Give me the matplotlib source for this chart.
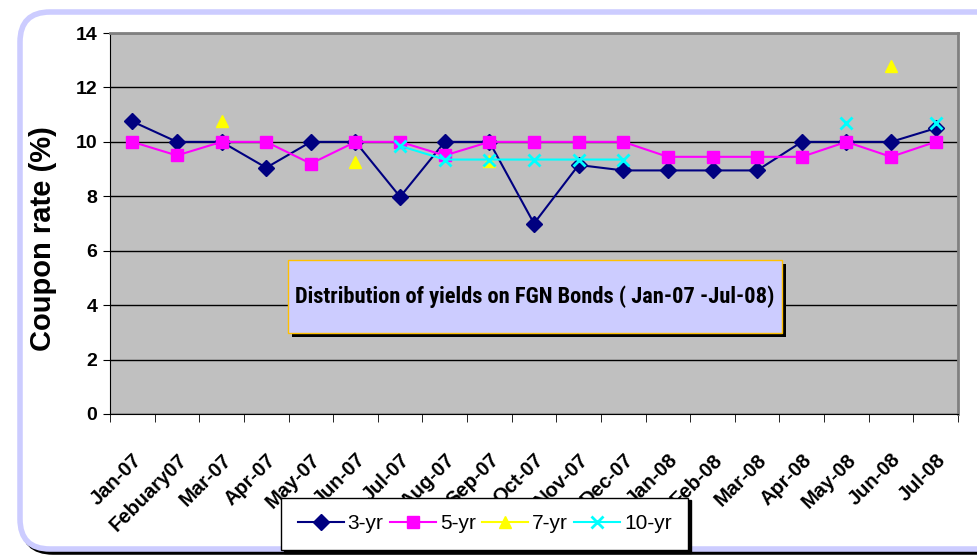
import numpy as np
import matplotlib
matplotlib.use("Agg")
from matplotlib import pyplot as plt
from matplotlib import font_manager as fm
from matplotlib.patches import FancyBboxPatch, Rectangle
from matplotlib.transforms import ScaledTranslation

months = ["Jan-07", "Febuary07", "Mar-07", "Apr-07", "May-07", "Jun-07", "Jul-07",
          "Aug-07", "Sep-07", "Oct-07", "Nov-07", "Dec-07", "Jan-08", "Feb-08",
          "Mar-08", "Apr-08", "May-08", "Jun-08", "Jul-08"]
nan = np.nan
yr3 = [10.75, 10, 10, 9.05, 10, 10, 7.98, 10, 10, 7.0, 9.15, 8.95, 8.95, 8.95, 8.95, 10, 10, 10, 10.5]
yr5 = [10, 9.5, 10, 10, 9.2, 10, 10, 9.5, 10, 10, 10, 10, 9.45, 9.45, 9.45, 9.45, 10, 9.45, 10]
yr7 = [nan, nan, 10.75, nan, nan, 9.25, nan, nan, 9.3, nan, nan, nan, nan, nan, nan, nan, nan, 12.8, nan]
yr10 = [nan, nan, nan, nan, nan, nan, 9.85, 9.35, 9.35, 9.35, 9.35, 9.35, nan, nan, nan, nan, 10.7, nan, 10.7]

TITLE = "Distribution of yields on FGN Bonds ( Jan-07 -Jul-08)"

W, H = 978, 558
fig = plt.figure(figsize=(W / 100, H / 100), dpi=100)


def is_bold(w):
    if isinstance(w, str):
        return w in ("bold", "heavy", "black", "extra bold", "demibold", "semibold")
    return w >= 600


# look for a narrow bold face for the boxed title
narrow = None
prefs = ["Liberation Sans Narrow", "Roboto Condensed", "Open Sans Condensed", "DejaVu Sans"]
for pref in prefs:
    for f in fm.fontManager.ttflist:
        cond = ("Narrow" in f.name or "Condensed" in f.name or
                str(f.stretch) in ("condensed", "semi-condensed", "extra-condensed"))
        if f.name.startswith(pref) and cond and is_bold(f.weight):
            narrow = f.fname
            break
    if narrow:
        break

# frame / decoration layer in pixel coords
bg = fig.add_axes([0, 0, 1, 1], zorder=-1)
bg.set_xlim(0, W)
bg.set_ylim(H, 0)
bg.axis("off")
bg.add_patch(FancyBboxPatch((23, 15), 990, 537, boxstyle="round,pad=0,rounding_size=30",
                            facecolor="none", edgecolor="black", linewidth=4))
bg.add_patch(FancyBboxPatch((20, 12), 990, 537, boxstyle="round,pad=0,rounding_size=30",
                            facecolor="white", edgecolor="#ccccff", linewidth=4))

ax = fig.add_axes([110 / W, 1 - 414 / H, 848 / W, 381 / H])
ax.set_facecolor("#c0c0c0")
x = np.arange(len(months))

ax.plot(x, yr3, color="#000080", marker="D", markersize=8, linewidth=1.5, label="3-yr", zorder=3)
ax.plot(x, yr5, color="#ff00ff", marker="s", markersize=9, linewidth=1.5, label="5-yr", zorder=3)
ax.plot(x, yr7, color="#ffff00", marker="^", markersize=9, linewidth=1.5, label="7-yr", zorder=3)
ax.plot(x, yr10, color="#00ffff", marker="x", markersize=9, markeredgewidth=2, linewidth=1.5,
        label="10-yr", zorder=3)

ax.set_xlim(-0.5, len(months) - 0.5)
ax.set_ylim(0, 14)
ax.set_yticks(np.arange(0, 15, 2))
ax.yaxis.grid(True, color="black", linewidth=1)
ax.set_axisbelow(True)
ax.set_xticks(x)
ax.set_xticks(np.arange(-0.5, len(months)), minor=True)
ax.set_xticklabels(months, rotation=45, ha="right", rotation_mode="anchor",
                   fontsize=14.5, fontweight="bold", family="Liberation Sans")
shift = ScaledTranslation(-8 / 100, 0, fig.dpi_scale_trans)
for lab in ax.get_xticklabels():
    lab.set_transform(lab.get_transform() + shift)
ax.tick_params(axis="x", which="major", length=0, pad=26)
ax.tick_params(axis="x", which="minor", length=6, color="black")
ax.tick_params(axis="y", length=5, color="black", pad=4)
for lab in ax.get_yticklabels():
    lab.set_fontsize(14)
    lab.set_fontweight("bold")
    lab.set_family("Liberation Sans")
ax.set_ylabel("Coupon rate (%)", fontsize=21, fontweight="bold", family="Liberation Sans")
ax.yaxis.set_label_coords(-0.062, 0.46)
for side in ["top", "right"]:
    ax.spines[side].set_color("#808080")
    ax.spines[side].set_linewidth(2)
ax.spines["left"].set_color("black")
ax.spines["bottom"].set_color("black")

# title box inside the plot
top = fig.add_axes([0, 0, 1, 1], zorder=5)
top.set_xlim(0, W)
top.set_ylim(H, 0)
top.axis("off")
top.add_patch(Rectangle((292, 264), 494, 73, facecolor="black"))
top.add_patch(Rectangle((288, 260), 494, 73, facecolor="#ccccff", edgecolor="#ffc000", linewidth=1))
if narrow:
    title_font = fm.FontProperties(fname=narrow, size=22)
else:
    title_font = fm.FontProperties(family="Liberation Sans", weight="bold", size=22)
t = top.text(535, 297, TITLE, ha="center", va="center", fontproperties=title_font, color="black")
# scale the title to fill the box width
fig.canvas.draw()
tw = t.get_window_extent().width
title_font.set_size(min(28, 22 * 480 / tw))
t.set_fontproperties(title_font)

leg = fig.legend(loc="lower left", bbox_to_anchor=(281 / W, 1 - 550 / H), ncol=4,
                 prop={"family": "Liberation Sans", "size": 15}, frameon=True, fancybox=False,
                 edgecolor="black", framealpha=1, handlelength=2.2, columnspacing=0.3,
                 handletextpad=0.2, borderpad=0.8, borderaxespad=0,
                 shadow={"facecolor": "black", "edgecolor": "black", "alpha": 1})
leg.get_frame().set_linewidth(1)

fig.savefig("out.png", dpi=100)
